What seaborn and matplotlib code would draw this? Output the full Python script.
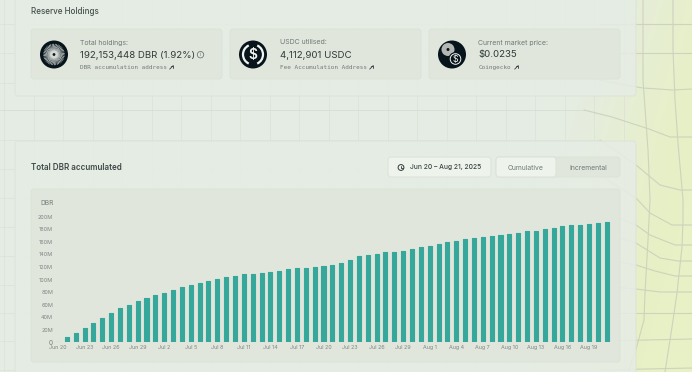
'''Reserve holdings card and accumulated DBR bar chart.'''
import matplotlib
matplotlib.use('Agg')
import matplotlib.pyplot as plt
import numpy as np
import pandas as pd
import seaborn as sns
from matplotlib.patches import Circle, FancyBboxPatch, Arc

W, H = 692, 372

# cumulative DBR in millions, one bar per day
dbr_millions = [
    1, 8, 15, 22, 31, 39, 47, 54, 59, 65, 71, 75, 78, 83, 88, 92, 95, 98, 101, 104, 106,
    108, 108.5, 110, 112, 114, 116, 118, 119, 120, 122, 123, 127, 131, 137, 139, 141, 143,
    144.5, 146, 148.5, 151, 154, 156.5, 160, 162, 164, 165.5, 168, 169, 171, 173, 174.5,
    177, 178, 180.5, 182.5, 185, 186, 187.5, 189, 190.5, 192,
]
days = pd.date_range('2025-06-20', '2025-08-21').strftime('%b %-d').tolist()
y_ticks = [0, 20, 40, 60, 80, 100, 120, 140, 160, 180, 200]
y_tick_labels = ['0', '20M', '40M', '60M', '80M', '100M', '120M', '140M', '160M', '180M', '200M']

SANS = 'Inter'
MONO = 'DejaVu Sans Mono'
TEAL = '#36a79b'
DARK = '#2f3a3a'
GREY = '#6f7a76'
ICON = '#07141c'

sns.set_theme(style='white')
plt.rcParams['font.family'] = [SANS, 'DejaVu Sans']

fig = plt.figure(figsize=(W / 100, H / 100), dpi=100)

# page background, everything here is in pixels
bg = fig.add_axes([0, 0, 1, 1])
bg.set_xlim(0, W)
bg.set_ylim(H, 0)
bg.axis('off')

xx, yy = np.meshgrid(np.linspace(0, W, W), np.linspace(0, H, H))
t = np.clip((xx - 470 + (yy - 372) * 0.28) / 170, 0, 1)
t = t * t * (3 - 2 * t)
base = np.array([229, 236, 227]) / 255
yellow = np.array([232, 240, 197]) / 255
bg.imshow(base + t[..., None] * (yellow - base), extent=(0, W, H, 0), aspect='auto', zorder=0)

# faint straight grid on the left part
for gx in np.arange(4, 630, 29.5):
    bg.plot([gx, gx], [0, H], color='#dce3d8', lw=0.6, zorder=1)
for gy in [24, 53, 83, 140, 169, 198, 227, 256, 285, 313, 341, 370]:
    bg.plot([0, 600], [gy, gy], color='#dce3d8', lw=0.6, zorder=1)
bg.plot([0, 584], [110, 110], color='#d6ddd2', lw=0.6, zorder=1)

# warped grid on the right
warped = [
    [(643, 0), (643, 80), (648, 150), (650, 200), (648, 240), (645, 293), (644, 320), (635, 353), (628, 372)],
    [(673, 0), (673, 50), (675, 100), (678, 143), (683, 200), (683, 220), (682, 247), (677, 293), (672, 327), (665, 372)],
    [(600, 24), (692, 24)],
    [(600, 53), (692, 53)],
    [(600, 80), (620, 84), (643, 88), (673, 90), (692, 89)],
    [(584, 110), (612, 117), (649, 129), (670, 137), (692, 137)],
    [(600, 140), (636, 165), (660, 185), (680, 190), (692, 190)],
    [(600, 175), (636, 198), (650, 213), (672, 225), (692, 225)],
    [(600, 210), (636, 225), (650, 235), (675, 245), (692, 245)],
    [(600, 232), (636, 243), (660, 258), (678, 261), (692, 261)],
    [(600, 258), (636, 265), (655, 271), (675, 276), (692, 276)],
    [(600, 286), (636, 289), (660, 292), (692, 292)],
    [(600, 313), (692, 313)],
    [(600, 341), (692, 339)],
    [(600, 370), (692, 368)],
]
for pts in warped:
    px, py = zip(*pts)
    bg.plot(px, py, color='#cdd3bd', lw=0.8, zorder=1)


def panel(x0, y0, x1, y1, face, alpha=1.0, edge='#dbe2d8', r=3):
    '''Rounded rectangle given by its pixel corners.'''
    bg.add_patch(FancyBboxPatch((x0 + r, y0 + r), x1 - x0 - 2 * r, y1 - y0 - 2 * r,
                                boxstyle=f'round,pad={r},rounding_size={r}', fc=face,
                                ec=edge, lw=0.7, alpha=alpha, zorder=2))


panel(15, -10, 636, 96, '#e6ece4', alpha=0.88)
panel(15, 141, 636, 390, '#e6ece4', alpha=0.88)
for left in [31, 230, 429]:
    panel(left, 29, left + 191, 79, '#e0e6dc')
panel(31, 189, 620, 362, '#e0e6dc')
panel(388, 157, 491, 177, '#eef3ec')
panel(496, 157, 620, 177, '#e0e6dc')
panel(496, 157, 556, 177, '#eef3ec')


def label(x, y, s, size, color=DARK, weight='normal', family=None, ha='left'):
    bg.text(x, y, s, fontsize=size, color=color, fontweight=weight, ha=ha, va='center',
            family=family or [SANS, 'DejaVu Sans'], zorder=5)


def out_arrow(x, y):
    '''Small north-east arrow after the link texts.'''
    bg.plot([x - 1.8, x + 1.8], [y + 1.8, y - 1.8], color=DARK, lw=0.6, zorder=5)
    bg.plot([x - 1, x + 1.8, x + 1.8], [y - 1.8, y - 1.8, y + 1], color=DARK, lw=0.6, zorder=5)


label(31, 12, 'Reserve Holdings', 5.8, '#454f4f', 'medium')
label(31, 167, 'Total DBR accumulated', 5.8, '#3f4949', 'semibold')

label(80, 42.5, 'Total holdings:', 5, GREY)
label(80, 55, '192,153,448 DBR (1.92%)', 6.95, DARK)
label(80, 67.5, 'DBR accumulation address', 4.3, GREY, family=MONO)
out_arrow(171.5, 67.3)

label(279.5, 42.5, 'USDC utilised:', 5, GREY)
label(279.5, 55, '4,112,901 USDC', 6.95, DARK)
label(279.5, 67.5, 'Fee Accumulation Address', 4.3, GREY, family=MONO)
out_arrow(371.5, 67.3)

label(478.5, 42.5, 'Current market price:', 5, GREY)
label(478.5, 55, '$0.0235', 6.95, DARK)
label(478.5, 67.5, 'Coingecko', 4.3, GREY, family=MONO)
out_arrow(516.5, 67.3)

label(410.5, 167.5, 'Jun 20 – Aug 21, 2025', 4.8, '#3b4444', 'medium')
label(526, 167.5, 'Cumulative', 4.9, GREY, ha='center')
label(588.5, 167.5, 'Incremental', 4.9, GREY, ha='center')

# info mark
bg.add_patch(Circle((200.5, 54.7), 3.2, fc='none', ec=GREY, lw=0.6, zorder=5))
label(200.5, 54.9, 'i', 3.6, GREY, ha='center')

# clock in the date button
bg.add_patch(Circle((401, 167.5), 2.9, fc='none', ec=DARK, lw=0.7, zorder=5))
bg.plot([401, 401, 402.6], [165.7, 167.7, 167.7], color=DARK, lw=0.6, zorder=5)

# DBR icon
cx, cy = 54, 54.5
bg.add_patch(Circle((cx, cy), 14, fc=ICON, ec='none', zorder=4))
for a in np.linspace(0, 2 * np.pi, 42, endpoint=False):
    bg.plot([cx + 3 * np.cos(a), cx + 10.5 * np.cos(a + 0.5)],
            [cy + 3 * np.sin(a), cy + 10.5 * np.sin(a + 0.5)],
            color='#e4e7e3', lw=0.45, zorder=5)
bg.add_patch(Circle((cx, cy), 3.8, fc='#d5d9d5', ec='none', zorder=6))
bg.add_patch(Circle((cx, cy), 1.4, fc=ICON, ec='none', zorder=7))

# USDC icon
cx, cy = 253, 54.5
bg.add_patch(Circle((cx, cy), 14, fc=ICON, ec='none', zorder=4))
bg.add_patch(Arc((cx, cy), 20, 20, theta1=115, theta2=245, ec='#f2f4f0', lw=1.6, zorder=5))
bg.add_patch(Arc((cx, cy), 20, 20, theta1=-65, theta2=65, ec='#f2f4f0', lw=1.6, zorder=5))
label(cx, cy + 0.3, '$', 10, '#f2f4f0', 'semibold', ha='center')

# price icon
cx, cy = 452, 54.5
bg.add_patch(Circle((cx, cy), 14, fc=ICON, ec='none', zorder=4))
bg.add_patch(Circle((cx - 4, cy - 5), 6.5, fc='#b3b7b3', ec='none', zorder=5))
bg.add_patch(Circle((cx - 4, cy - 5), 1.5, fc=ICON, ec='none', zorder=6))
bg.add_patch(Circle((cx + 3.5, cy + 4.5), 7, fc=ICON, ec='none', zorder=6))
bg.add_patch(Circle((cx + 3.5, cy + 4.5), 5.3, fc='none', ec='#f2f4f0', lw=0.7, zorder=7))
label(cx + 3.5, cy + 4.7, '$', 6.4, '#f2f4f0', ha='center')
bg.texts[-1].set_zorder(8)

# the chart itself
STEP = 8.85
x_left = 58 - STEP / 2
ax = fig.add_axes([x_left / W, 1 - 342.3 / H, STEP * len(dbr_millions) / W, 125.6 / H])
ax.patch.set_alpha(0)
sns.barplot(x=days, y=dbr_millions, color=TEAL, saturation=1, width=0.46, ax=ax,
            edgecolor=TEAL, linewidth=0.8)
for bar in ax.patches:
    bar.set_joinstyle('round')
ax.set_ylim(0, 200)
ax.set_xlim(-0.5, len(days) - 0.5)
ax.set_yticks(y_ticks, y_tick_labels)
ax.set_xticks(range(0, 61, 3), days[0:61:3])
ax.tick_params(axis='both', length=0, labelsize=3.9, labelcolor='#7d8682', pad=2.2)
ax.tick_params(axis='y', pad=0.4)
ax.yaxis.get_ticklabels()[0].set_color('#6f7a76')
ax.yaxis.get_ticklabels()[0].set_fontsize(4.6)
sns.despine(ax=ax, left=True, bottom=True)
label(40, 203, 'DBR', 4.7, GREY)

fig.savefig('out.png', dpi=100)
